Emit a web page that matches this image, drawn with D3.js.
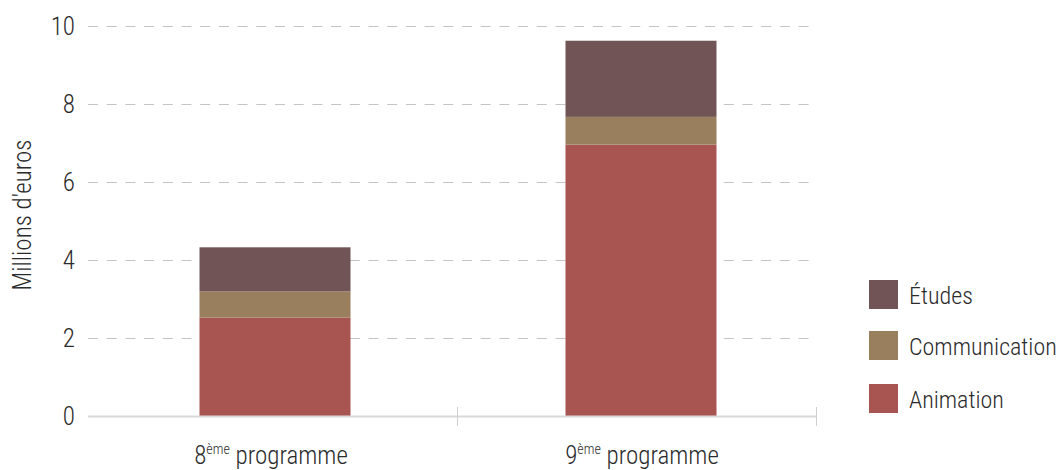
<!DOCTYPE html>
<html>
<head>
<meta charset="utf-8">
<script src="https://cdn.jsdelivr.net/npm/d3@7"></script>
<style>
  body { margin: 0; background: #fff; }
  svg text { font-family: "Roboto Condensed", Roboto, sans-serif; font-weight: 300; fill: #2b2b2b; }
</style>
</head>
<body>
<svg></svg>
<script>
window.onload = function () {

    let width = 1061;
    let height = 470;
    let svg = d3.select("svg").attr("width", width).attr("height", height);

    // chart data
    let programmes = ["8", "9"];
    let animation = [2.52, 6.95];
    let communication = [0.67, 0.71];
    let etudes = [1.13, 1.95];
    let yTicks = [0, 2, 4, 6, 8, 10];

    let seriesNames = ["Animation", "Communication", "Études"];
    let colors = ["#a85551", "#9a7f5f", "#715556"];

    let rows = programmes.map(function (p, i) {
        return { prog: p, "Animation": animation[i], "Communication": communication[i], "Études": etudes[i] };
    });
    let stacked = d3.stack().keys(seriesNames)(rows);

    let x = d3.scaleBand().domain(programmes).range([92, 824]).paddingInner(0).paddingOuter(0);
    let y = d3.scaleLinear().domain([0, 10]).range([416, 25.5]);
    let barWidth = 151;

    // grid lines
    svg.append("g").selectAll("line")
        .data(yTicks.filter(function (d) { return d > 0; }))
        .join("line")
        .attr("x1", 88).attr("x2", 817)
        .attr("y1", function (d) { return Math.round(y(d)) + 0.5; })
        .attr("y2", function (d) { return Math.round(y(d)) + 0.5; })
        .attr("stroke", "#c4c4c4").attr("stroke-width", 1)
        .attr("stroke-dasharray", "10,8.7");

    // y tick labels
    svg.append("g").selectAll("text")
        .data(yTicks)
        .join("text")
        .attr("x", 75)
        .attr("y", function (d) { return y(d); })
        .attr("dy", "0.36em")
        .attr("text-anchor", "end")
        .style("font-size", "25px")
        .text(function (d) { return d; });

    // y axis title
    svg.append("text")
        .attr("transform", "translate(31,215) rotate(-90)")
        .attr("text-anchor", "middle")
        .style("font-size", "25px")
        .text("Millions d'euros");

    // bars
    svg.append("g").selectAll("g")
        .data(stacked)
        .join("g")
        .attr("fill", function (d, i) { return colors[i]; })
        .selectAll("rect")
        .data(function (d) { return d; })
        .join("rect")
        .attr("x", function (d) { return x(d.data.prog) + x.bandwidth() / 2 - barWidth / 2; })
        .attr("width", barWidth)
        .attr("y", function (d) { return y(d[1]); })
        .attr("height", function (d) { return y(d[0]) - y(d[1]); });

    // x axis line and ticks
    svg.append("line")
        .attr("x1", 88).attr("x2", 817)
        .attr("y1", 416.5).attr("y2", 416.5)
        .attr("stroke", "#d9d9d9").attr("stroke-width", 2);
    svg.append("g").selectAll("line")
        .data([457, 816])
        .join("line")
        .attr("x1", function (d) { return d + 0.5; })
        .attr("x2", function (d) { return d + 0.5; })
        .attr("y1", 407).attr("y2", 426)
        .attr("stroke", "#cfcfcf").attr("stroke-width", 1);

    // x labels with superscript
    let labelCenters = [271, 642];
    let xl = svg.append("g").selectAll("text")
        .data(programmes)
        .join("text")
        .attr("x", function (d, i) { return labelCenters[i]; })
        .attr("y", 464)
        .attr("text-anchor", "middle")
        .style("font-size", "25px");
    xl.append("tspan").text(function (d) { return d; });
    xl.append("tspan").attr("dy", -10).style("font-size", "14px").text("ème");
    xl.append("tspan").attr("dy", 10).text(" programme");

    // legend
    let legendItems = ["Études", "Communication", "Animation"];
    let legendY = [280, 331, 384];
    let lg = svg.append("g").selectAll("g")
        .data(legendItems)
        .join("g")
        .attr("transform", function (d, i) { return "translate(869," + legendY[i] + ")"; });
    lg.append("rect")
        .attr("width", 29).attr("height", 29)
        .attr("fill", function (d) { return colors[seriesNames.indexOf(d)]; });
    lg.append("text")
        .attr("x", 40).attr("y", 15).attr("dy", "0.36em")
        .style("font-size", "24px")
        .text(function (d) { return d; });
}
</script>
</body>
</html>
